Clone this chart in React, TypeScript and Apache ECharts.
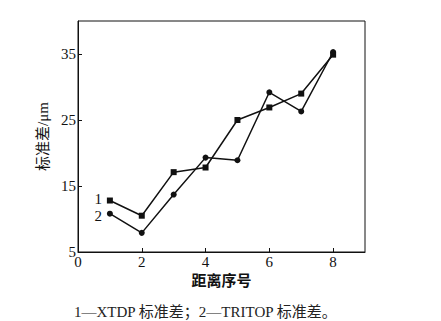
import React, { useEffect, useRef } from "react";
import * as echarts from "echarts";

const xValues = [1, 2, 3, 4, 5, 6, 7, 8];
const seriesXTDP = [12.8, 10.5, 17.1, 17.8, 25.0, 26.9, 29.0, 34.9];
const seriesTRITOP = [10.8, 7.9, 13.7, 19.3, 18.9, 29.2, 26.3, 35.3];
const seriesLabels = ["1", "2"];
const xAxisName = "距离序号";
const yAxisName = "标准差/μm";
const caption = "1—XTDP 标准差；2—TRITOP 标准差。";

const FONT = '"Liberation Serif", "Noto Sans CJK SC", serif';

function buildData(vals: number[], label: string, dy: number) {
  return vals.map((v, i) => {
    if (i === 0) {
      return {
        value: [xValues[i], v],
        label: {
          show: true,
          position: "left",
          distance: 5,
          offset: [0, dy],
          formatter: label,
          color: "#111",
          fontFamily: FONT,
          fontSize: 15,
        },
      };
    }
    return { value: [xValues[i], v] };
  });
}

export default function App() {
  const ref = useRef<HTMLDivElement>(null);
  useEffect(() => {
    if (!ref.current) return;
    const chart = echarts.init(ref.current, null, { renderer: "svg" });
    chart.setOption({
      animation: false,
      backgroundColor: "#fff",
      title: {
        text: caption,
        left: 69,
        top: 299,
        textStyle: { fontFamily: FONT, fontSize: 15, fontWeight: "normal", color: "#222" },
      },
      grid: {
        left: 78,
        right: 76,
        top: 21,
        bottom: 69,
        show: true,
        borderColor: "#111",
        borderWidth: 1,
        backgroundColor: "transparent",
      },
      xAxis: {
        type: "value",
        min: 0,
        max: 9,
        interval: 2,
        name: xAxisName,
        nameLocation: "middle",
        nameGap: 21,
        nameTextStyle: { fontFamily: FONT, fontSize: 15, fontWeight: "bold", color: "#111" },
        axisLine: { lineStyle: { color: "#111", width: 1 } },
        axisTick: { inside: true, length: 4, lineStyle: { color: "#111" } },
        axisLabel: { showMaxLabel: false, fontFamily: FONT, fontSize: 15, color: "#111", margin: 2 },
        splitLine: { show: false },
      },
      yAxis: {
        type: "value",
        min: 5,
        max: 40,
        interval: 10,
        name: yAxisName,
        nameLocation: "middle",
        nameGap: 28,
        nameRotate: 90,
        nameTextStyle: { fontFamily: FONT, fontSize: 15, color: "#111" },
        axisLine: { lineStyle: { color: "#111", width: 1 } },
        axisTick: { inside: true, length: 4, lineStyle: { color: "#111" } },
        axisLabel: { showMaxLabel: false, fontFamily: FONT, fontSize: 15, color: "#111", margin: 2 },
        splitLine: { show: false },
      },
      series: [
        {
          type: "line",
          data: buildData(seriesXTDP, seriesLabels[0], -2),
          symbol: "rect",
          symbolSize: 6,
          showAllSymbol: true,
          lineStyle: { color: "#111", width: 1.5 },
          itemStyle: { color: "#111" },
        },
        {
          type: "line",
          data: buildData(seriesTRITOP, seriesLabels[1], 2),
          symbol: "circle",
          symbolSize: 6,
          showAllSymbol: true,
          lineStyle: { color: "#111", width: 1.5 },
          itemStyle: { color: "#111" },
        },
      ],
    });
    return () => chart.dispose();
  }, []);
  return <div ref={ref} style={{ width: 441, height: 321, position: "absolute", left: 0, top: 0 }} />;
}
